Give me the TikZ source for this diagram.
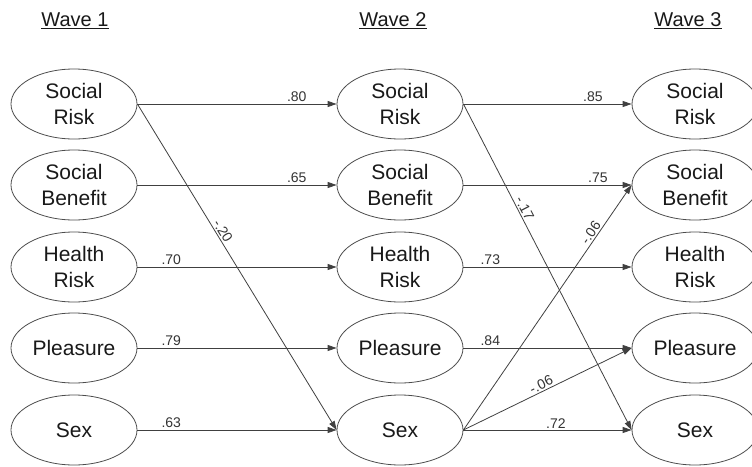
\documentclass[tikz,border=0pt]{standalone}
\usepackage{fontspec}
\setmainfont{Liberation Sans}
\usetikzlibrary{arrows.meta,shapes.geometric}
\begin{document}
\begin{tikzpicture}[x=1pt,y=-1pt,
  latent/.style={ellipse, draw=black!70, line width=0.8pt, minimum width=126pt, minimum height=70pt, inner sep=0pt, align=center, font=\fontsize{21}{26.5}\selectfont, text=black!90},
  pathar/.style={draw=black!75, line width=0.8pt, -{Triangle[length=9pt,width=6pt]}},
  coef/.style={font=\fontsize{14}{16}\selectfont, text=black!80, inner sep=1.5pt},
  wavetitle/.style={font=\fontsize{20}{24}\selectfont, text=black!90, inner sep=0pt}
]
\useasboundingbox (0,0) rectangle (752,466);

% titles
\node[wavetitle] (t1) at (75,21) {\underline{Wave 1}};
\node[wavetitle] (t2) at (393,21) {\underline{Wave 2}};
\node[wavetitle] (t3) at (688,21) {\underline{Wave 3}};

% wave 1
\node[latent] (a1) at (74,104) {Social\\Risk};
\node[latent] (a2) at (74,185) {Social\\Benefit};
\node[latent] (a3) at (74,267) {Health\\Risk};
\node[latent] (a4) at (74,348) {Pleasure};
\node[latent] (a5) at (74,430) {Sex};
% wave 2
\node[latent] (b1) at (400,104) {Social\\Risk};
\node[latent] (b2) at (400,185) {Social\\Benefit};
\node[latent] (b3) at (400,267) {Health\\Risk};
\node[latent] (b4) at (400,348) {Pleasure};
\node[latent] (b5) at (400,430) {Sex};
% wave 3
\node[latent] (c1) at (695,104) {Social\\Risk};
\node[latent] (c2) at (695,185) {Social\\Benefit};
\node[latent] (c3) at (695,267) {Health\\Risk};
\node[latent] (c4) at (695,348) {Pleasure};
\node[latent] (c5) at (695,430) {Sex};

% wave 1 -> wave 2
\draw[pathar] (a1.east) -- node[coef, pos=0.8, above] (l80) {.80} (b1.west);
\draw[pathar] (a2.east) -- node[coef, pos=0.8, above] (l65) {.65} (b2.west);
\draw[pathar] (a3.east) -- node[coef, pos=0.17, above] (l70) {.70} (b3.west);
\draw[pathar] (a4.east) -- node[coef, pos=0.17, above] (l79) {.79} (b4.west);
\draw[pathar] (a5.east) -- node[coef, pos=0.17, above] (l63) {.63} (b5.west);
\draw[pathar] (a1.east) -- node[coef, pos=0.4, above, sloped] (l20) {-.20} (b5.west);

% wave 2 -> wave 3
\draw[pathar] (b1.east) -- node[coef, pos=0.77, above] (l85) {.85} (c1.west);
\draw[pathar] (b2.east) -- node[coef, pos=0.8, above] (l75) {.75} (c2.west);
\draw[pathar] (b3.east) -- node[coef, pos=0.16, above] (l73) {.73} (c3.west);
\draw[pathar] (b4.east) -- node[coef, pos=0.16, above] (l84) {.84} (c4.west);
\draw[pathar] (b5.east) -- node[coef, pos=0.55, above] (l72) {.72} (c5.west);
\draw[pathar] (b1.east) -- node[coef, pos=0.33, above, sloped] (l17) {-.17} (c5.west);
\draw[pathar] (b5.east) -- node[coef, pos=0.79, above, sloped] (l06a) {-.06} (c2.west);
\draw[pathar] (b5.east) -- node[coef, pos=0.48, above, sloped] (l06b) {-.06} (c4.west);
\end{tikzpicture}
\end{document}
